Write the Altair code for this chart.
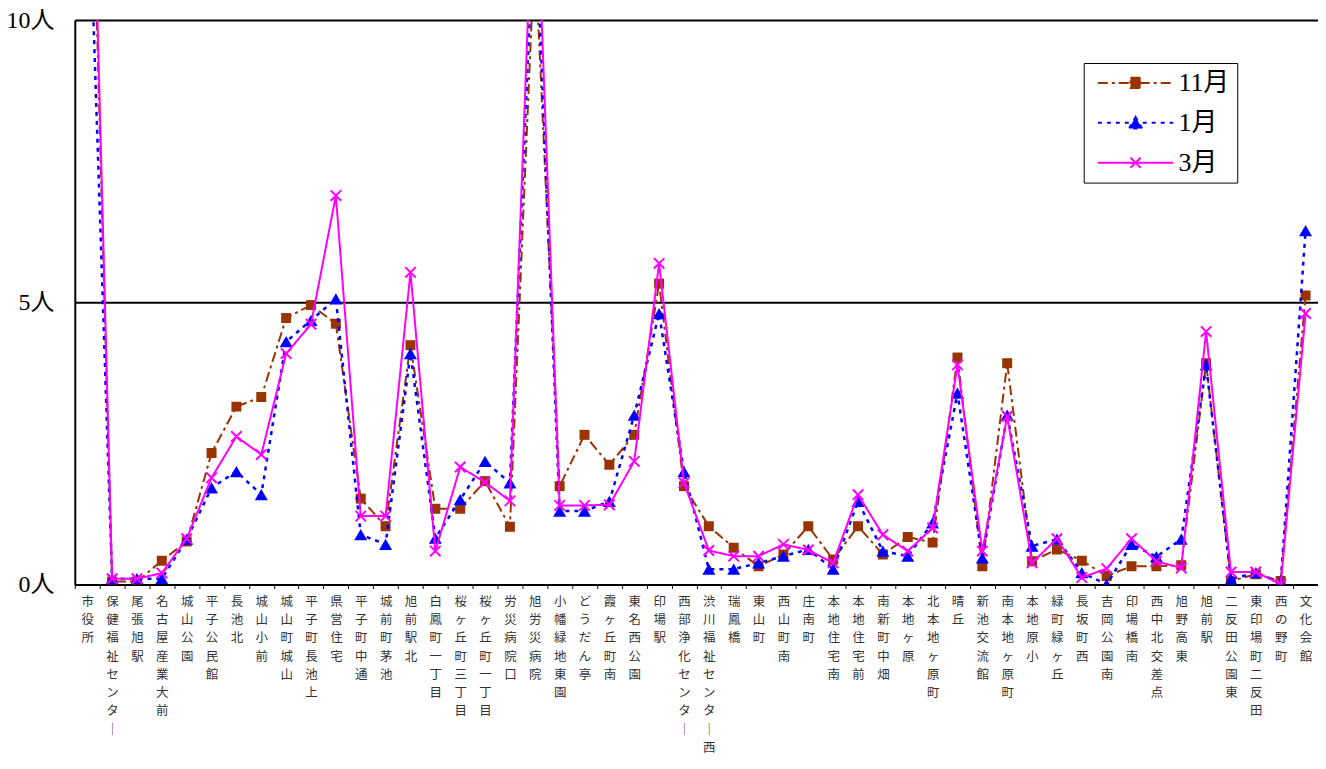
import altair as alt
import pandas as pd

stops = ["市役所", "保健福祉センター", "尾張旭駅", "名古屋産業大前", "城山公園", "平子公民館", "長池北",
         "城山小前", "城山町城山", "平子町長池上", "県営住宅", "平子町中通", "城前町茅池", "旭前駅北",
         "白鳳町一丁目", "桜ヶ丘町三丁目", "桜ヶ丘町一丁目", "労災病院口", "旭労災病院", "小幡緑地東園",
         "どうだん亭", "霞ヶ丘町南", "東名西公園", "印場駅", "西部浄化センター", "渋川福祉センター西",
         "瑞鳳橋", "東山町", "西山町南", "庄南町", "本地住宅南", "本地住宅前", "南新町中畑", "本地ヶ原",
         "北本地ヶ原町", "晴丘", "新池交流館", "南本地ヶ原町", "本地原小", "緑町緑ヶ丘", "長坂町西",
         "吉岡公園南", "印場橋南", "西中北交差点", "旭野高東", "旭前駅", "二反田公園東", "東印場町二反田",
         "西の野町", "文化会館"]

nov = [16.3, 0.05, 0.05, 0.42, 0.76, 2.33, 3.15, 3.32, 4.72, 4.95,
       4.62, 1.52, 1.03, 4.24, 1.34, 1.34, 1.83, 1.02, 11.3, 1.74,
       2.65, 2.12, 2.65, 5.33, 1.74, 1.03, 0.65, 0.32, 0.53, 1.03,
       0.44, 1.03, 0.53, 0.84, 0.74, 4.02, 0.32, 3.92, 0.41, 0.62,
       0.42, 0.15, 0.32, 0.32, 0.34, 3.92, 0.06, 0.18, 0.06, 5.12]

jan = [13.3, 0.1, 0.1, 0.1, 0.8, 1.71, 2.0, 1.59, 4.3, 4.68,
       5.06, 0.88, 0.71, 4.09, 0.82, 1.5, 2.18, 1.8, 12.2, 1.3,
       1.3, 1.47, 3.0, 4.8, 2.0, 0.27, 0.27, 0.38, 0.5, 0.62,
       0.27, 1.47, 0.59, 0.5, 1.09, 3.39, 0.47, 3.0, 0.68, 0.8,
       0.21, 0.0, 0.71, 0.49, 0.8, 3.89, 0.09, 0.21, 0.03, 6.27]

mar = [17.0, 0.1, 0.1, 0.2, 0.81, 1.89, 2.62, 2.3, 4.09, 4.61,
       6.89, 1.21, 1.21, 5.53, 0.59, 2.08, 1.81, 1.48, 13.3, 1.4,
       1.4, 1.41, 2.18, 5.69, 1.8, 0.6, 0.5, 0.5, 0.71, 0.61,
       0.38, 1.59, 0.88, 0.59, 1.0, 3.89, 0.59, 2.98, 0.38, 0.81,
       0.12, 0.28, 0.81, 0.41, 0.29, 4.48, 0.22, 0.22, 0.0, 4.8]

months = ["11月", "1月", "3月"]
colors = ["#993300", "#0000FF", "#FF00FF"]
dashes = [[10, 4, 3, 4], [4, 5], [1, 0]]
widths = [2, 2.5, 2]
marker_shapes = ["square", "triangle-up", "M-1,-1L1,1M-1,1L1,-1"]
marker_sizes = [100, 170, 110]
marker_filled = [True, True, False]
legend_paths = [
    "M-6.3,0H6.3M-0.85,-0.85H0.85V0.85H-0.85Z",
    "M-6.3,0H6.3M0,-0.95L1.1,0.95H-1.1Z",
    "M-6.3,0H6.3M-0.85,-0.85L0.85,0.85M-0.85,0.85L0.85,-0.85",
]

rows = []
for m, vals in zip(months, [nov, jan, mar]):
    for s, v in zip(stops, vals):
        rows.append({"stop": s, "month": m, "value": v})
df = pd.DataFrame(rows)

serif = "Liberation Serif, Noto Sans CJK JP"

x_enc = alt.X(
    "stop:N", sort=stops, title=None,
    scale=alt.Scale(type="band", paddingInner=0, paddingOuter=0),
    axis=alt.Axis(
        labelExpr="split(replace(datum.label, 'ー', '｜'), '')",
        labelAngle=0, labelAlign="center", labelBaseline="top",
        labelFont="Noto Sans CJK JP", labelFontSize=12.5, labelColor="#333333",
        labelLineHeight=18.3, labelPadding=7, labelOverlap=False, labelLimit=0,
        tickBand="extent", ticks=True, tickSize=4, tickColor="black", tickWidth=1,
        domainColor="black", domainWidth=2, grid=False,
    ),
)
y_enc = alt.Y(
    "value:Q", title=None,
    scale=alt.Scale(domain=[0, 10], nice=False),
    axis=alt.Axis(
        values=[0, 5, 10], labelExpr="datum.value + '人'",
        labelFont=serif, labelFontSize=24, labelColor="black", labelPadding=21,
        ticks=False, domainColor="black", domainWidth=2,
        grid=True, gridColor="black", gridWidth=2, gridOpacity=1,
    ),
)

base = alt.Chart(df)
layers = []
for i, m in enumerate(months):
    sub = base.transform_filter(alt.datum.month == m)
    line = sub.mark_line(color=colors[i], strokeDash=dashes[i], strokeWidth=widths[i],
                         clip=True).encode(x=x_enc, y=y_enc)
    pts = sub.mark_point(shape=marker_shapes[i], size=marker_sizes[i], filled=marker_filled[i],
                         color=colors[i], strokeWidth=2, opacity=1, clip=True).encode(x=x_enc, y=y_enc)
    layers += [line, pts]

legend_layer = base.transform_filter("datum.value > 1000").mark_point(opacity=1, clip=True).encode(
    x=x_enc, y=y_enc,
    fill=alt.Fill("month:N", title=None, scale=alt.Scale(domain=months, range=colors)),
    stroke=alt.Stroke("month:N", title=None, scale=alt.Scale(domain=months, range=colors)),
    strokeDash=alt.StrokeDash("month:N", title=None, scale=alt.Scale(domain=months, range=dashes)),
    shape=alt.Shape("month:N", title=None, scale=alt.Scale(domain=months, range=legend_paths)),
)
layers.append(legend_layer)

chart = alt.layer(*layers).properties(
    width=1247, height=566,
    autosize=alt.AutoSizeParams(type="none"),
    padding={"left": 67, "top": 11, "right": 0, "bottom": 171},
).configure_view(stroke=None).configure_legend(
    orient="none", legendX=1012, legendY=43,
    padding=7, strokeColor="black", fillColor="white",
    symbolSize=144, symbolStrokeWidth=2, symbolOffset=32, symbolOpacity=1,
    labelFont=serif, labelFontSize=26, labelColor="black", labelOffset=30,
    rowPadding=14,
)

chart.save("out.html", embed_options={"renderer": "svg", "actions": False})
